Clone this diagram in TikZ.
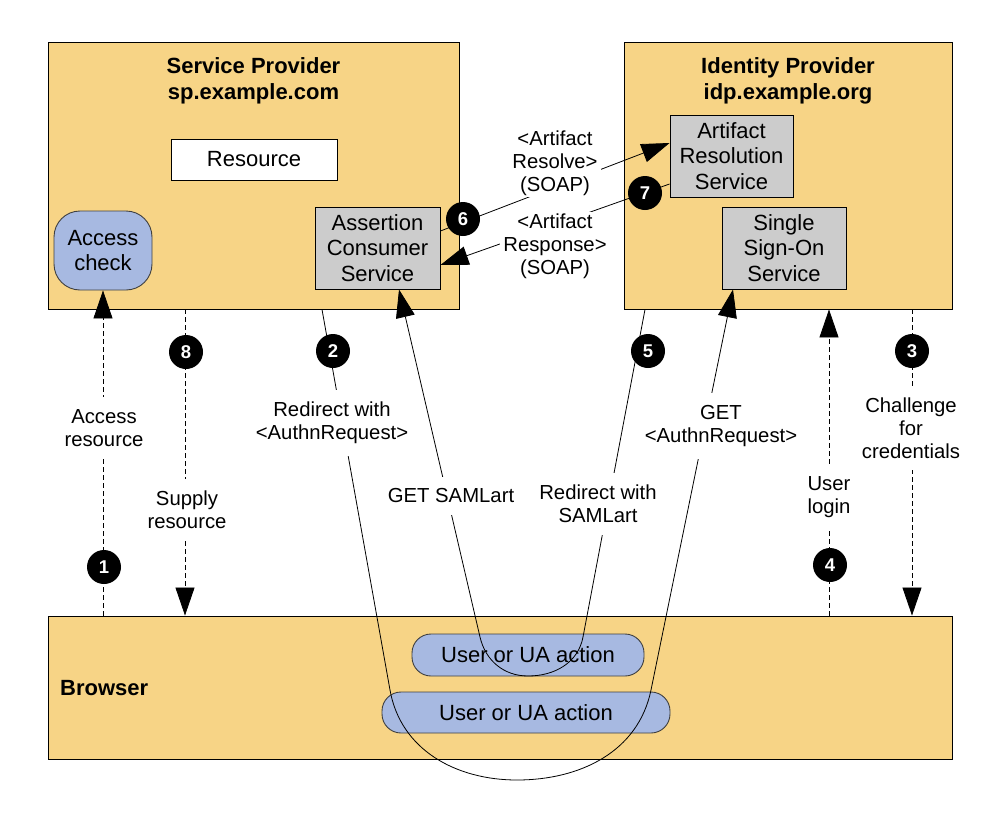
\documentclass[tikz,border=0pt]{standalone}
\usepackage{fontspec}
\setmainfont{Liberation Sans}
\usetikzlibrary{arrows.meta,calc}
\definecolor{sand}{RGB}{247,212,134}
\definecolor{lblue}{RGB}{167,185,225}
\definecolor{lgray}{RGB}{204,204,204}
\tikzset{zone/.style={rectangle,draw,fill=sand,line width=.9pt,inner sep=0pt},
  ttl/.style={align=center,inner sep=0pt,font=\fontsize{22}{26}\selectfont\bfseries},
  res/.style={rectangle,draw,fill=white,line width=.9pt,inner sep=0pt,font=\fontsize{22}{25.5}\selectfont},
  svc/.style={rectangle,draw,fill=lgray,line width=.9pt,inner sep=0pt,align=center,font=\fontsize{22}{25.5}\selectfont},
  act/.style={rectangle,draw=black!75,fill=lblue,line width=.9pt,inner sep=0pt,align=center,font=\fontsize{22}{25.5}\selectfont},
  lab/.style={fill=white,align=center,inner xsep=3pt,inner ysep=12pt,font=\fontsize{20.3}{23}\selectfont},
  slab/.style={lab,inner ysep=2pt},
  num/.style={circle,fill=black,text=white,minimum size=34pt,inner sep=0pt,font=\fontsize{18.5}{18.5}\selectfont\bfseries},
  arr/.style={line width=.8pt,-{Triangle[length=28pt,width=19pt]}},
  darr/.style={arr,dash pattern=on 5pt off 3pt}}
\begin{document}
\begin{tikzpicture}[x=1pt,y=-1pt]
\useasboundingbox (0,0) rectangle (1006,819);
\node[zone,minimum width=411,minimum height=267] (sp) at (253.5,175.5) {};
\node[zone,minimum width=328,minimum height=267] (idp) at (788,175.5) {};
\node[zone,minimum width=904,minimum height=143] (br) at (500,687.5) {};
\node[ttl] (spt) at (253.5,81) {Service Provider\\sp.example.com};
\node[ttl] (idpt) at (788,81) {Identity Provider\\idp.example.org};
\node[ttl,anchor=west] (brt) at (60,688) {Browser};
\node[res,minimum width=166,minimum height=41] (rsc) at (254,159.5) {Resource};
\node[act,minimum width=98,minimum height=79,rounded corners=26] (chk) at (103,250.5) {Access\\check};
\node[svc,minimum width=125,minimum height=82] (acs) at (377.5,248) {Assertion\\Consumer\\Service};
\node[svc,minimum width=123,minimum height=82] (ars) at (731.5,156) {Artifact\\Resolution\\Service};
\node[svc,minimum width=124,minimum height=82] (sso) at (784,248) {Single\\Sign-On\\Service};
\node[act,minimum width=232,minimum height=42,rounded corners=19] (ua1) at (528,655) {User or UA action};
\node[act,minimum width=288,minimum height=41,rounded corners=19] (ua2) at (526,712.5) {User or UA action};

\draw[darr] (chk.south |- br.north) -- (chk.south);
\draw[darr] (185,0 |- sp.south) -- (185,0 |- br.north);
\draw[darr] (912,0 |- idp.south) -- (912,0 |- br.north);
\draw[darr] (829,0 |- br.north) -- (829,0 |- idp.south);
\draw[arr] (acs.east |- 0,231) -- (ars.west |- 0,143);
\draw[arr] (ars.west |- 0,184) -- (acs.east |- 0,265);
\draw[arr] (322,0 |- sp.south) -- (390,690) to[out=-80,in=180] (517,780)
  to[out=0,in=-101.6] (651,690) -- (733,0 |- sso.south);
\draw[arr] (645,0 |- idp.south) -- (583,637) to[out=-100.6,in=0] (528,676)
  to[out=180,in=-77] (480,637) -- (399,0 |- acs.south);

\node[lab] (l1) at (104,428) {Access\\resource};
\node[lab] (l2) at (332,423) {Redirect with\\<AuthnRequest>};
\node[lab] (l3) at (911,428) {Challenge\\for\\credentials};
\node[lab] (l4) at (829,497) {User\\login};
\node[lab] (l5) at (598,504) {Redirect with\\SAMLart};
\node[lab] (lg) at (451,496) {GET SAMLart};
\node[lab] (la) at (721,426) {GET\\<AuthnRequest>};
\node[lab] (l8) at (187,510) {Supply\\resource};
\node[slab] (l6) at (555,163) {<Artifact\\Resolve>\\(SOAP)};
\node[slab] (l7) at (555,246) {<Artifact\\Response>\\(SOAP)};

\node[num] (n1) at (104,567) {1};
\node[num] (n2) at (333,351) {2};
\node[num] (n3) at (912,351) {3};
\node[num] (n4) at (830,565) {4};
\node[num] (n5) at (648,351) {5};
\node[num] (n6) at (463,219) {6};
\node[num] (n7) at (645,193) {7};
\node[num] (n8) at (186,352) {8};
\end{tikzpicture}
\end{document}
